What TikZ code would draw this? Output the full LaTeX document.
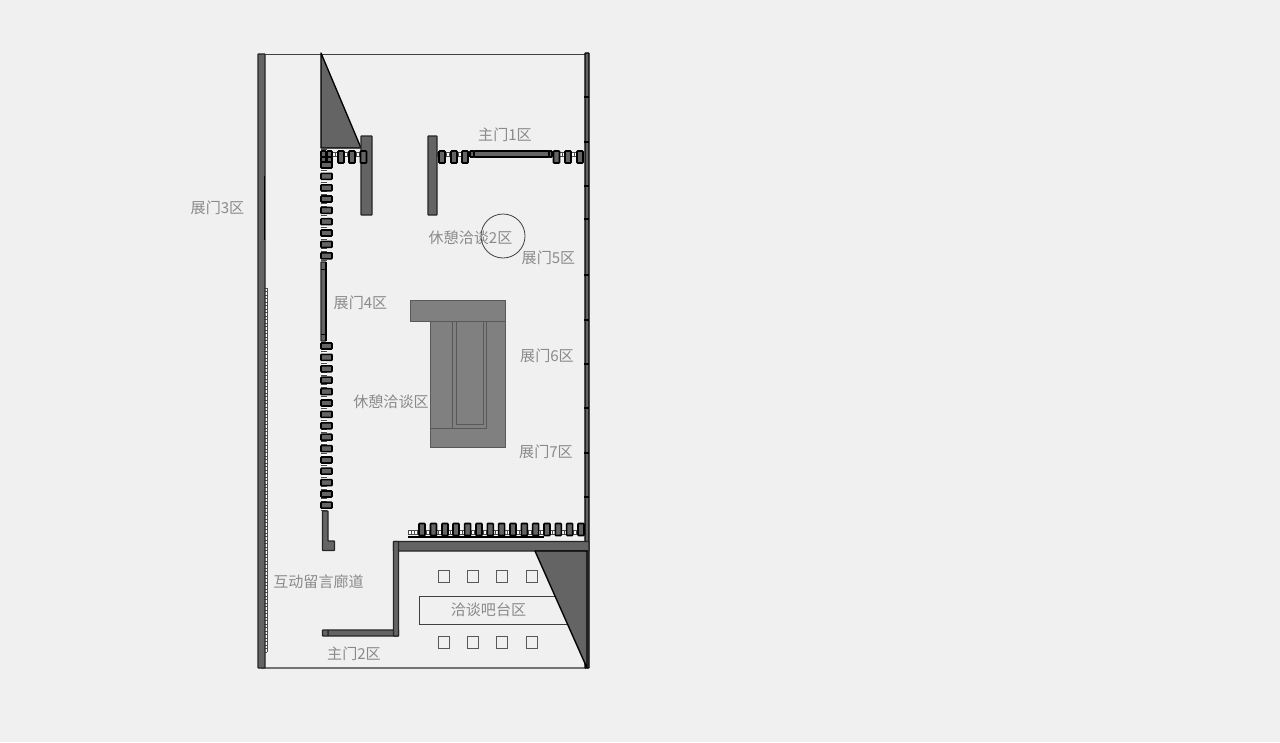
\documentclass[tikz,border=0pt]{standalone}
\usepackage{fontspec}
\newfontfamily\cjk{Noto Sans CJK SC}
\definecolor{bgc}{HTML}{F0F0F0}
\definecolor{wallc}{HTML}{646464}
\definecolor{sofac}{HTML}{808080}
\definecolor{labelc}{HTML}{8A8A8A}
\tikzset{
  wall/.style={fill=wallc,draw=black!85,line width=0.85pt,rounded corners=0.4pt},
  door/.style={fill=wallc,draw=black,line width=1.15pt,rounded corners=0.5pt},
  wedge/.style={fill=wallc,draw=black,line width=1pt,line join=round},
  sofa/.style={fill=sofac,draw=black!65,line width=0.5pt},
  sofaline/.style={draw=black!65,line width=0.5pt},
  seat/.style={draw=black!65,line width=0.75pt},
  thin/.style={draw=black!75,line width=0.6pt},
  zone/.style={text=labelc,font=\cjk\fontsize{11.3pt}{13pt}\selectfont,inner sep=0pt},
  track/.style={fill=white,draw=none},
  tick/.style={draw=black!70,line width=0.35pt}
}
\begin{document}
\begin{tikzpicture}[x=0.75pt,y=-0.75pt]
\useasboundingbox (0,0) rectangle (1280,742);
\fill[bgc] (0,0) rectangle (1280,742);
% outer thin lines
\draw[thin,line width=0.7pt] (261,54) -- (586,54);
\draw[thin,draw=black!55,line width=0.9pt] (261,668) -- (586,668);
% hatch on left wall
\fill[track] (265,288) rectangle (267,652);
\foreach \y in {288,291.5,...,652} \draw[tick] (265,\y) -- (267,\y);
\draw[tick] (267,288) -- (267,652);
% left wall
\draw[wall] (258,54) rectangle (265,668);
\draw[black,line width=0.9pt] (264.6,176) -- (264.6,240);
% right wall
\draw[wall,draw=black,line width=1pt] (585,53) rectangle (589,668);
\foreach \y in {97,142,186,219,275,320,364,408,453,497} \draw[black,line width=0.8pt] (584,\y) -- (589,\y);
% door tracks: vertical
\fill[track] (322,149) rectangle (326.5,262);
\fill[track] (322,341) rectangle (326.5,511);
\foreach \y in {149,152,...,261} \draw[tick] (321,\y) -- (326.5,\y);
\foreach \y in {342,345,...,510} \draw[tick] (321,\y) -- (326.5,\y);
% door tracks: upper horizontal
\fill[track] (332,152) rectangle (366,156);
\fill[track] (437,152) rectangle (584,156);
\foreach \x in {332,335,...,366} \draw[tick] (\x,152) -- (\x,156);
\foreach \x in {437,440,...,472} \draw[tick] (\x,152) -- (\x,156);
\foreach \x in {550,553,...,584} \draw[tick] (\x,152) -- (\x,156);
\draw[tick] (332,152) -- (366,152) (332,156) -- (366,156);
\draw[tick] (437,152) -- (472,152) (437,156) -- (472,156) (550,152) -- (584,152) (550,156) -- (584,156);
% door tracks: lower horizontal
\fill[track] (408,530) rectangle (585,534);
\foreach \x in {408,411,...,584} \draw[tick] (\x,530) -- (\x,534);
\draw[tick] (408,530) -- (585,530) (408,534) -- (585,534);
% triangle and pillars
\draw[wedge] (321,53) -- (321,148) -- (361,148) -- cycle;
\draw[wall] (361,136) rectangle (372,215);
\draw[wall] (428,136) rectangle (437,215);
% upper horizontal leaves
\foreach \x in {338,349,360.5,439,451,462,553.5,565,577} \draw[door] (\x,151) rectangle ++(6,12);
\draw[door] (321,151) rectangle (326,157);
\draw[door] (327,151) rectangle (332,157);
\draw[door] (327,157) rectangle (332,163);
\draw[door] (321,157) rectangle (326,162);
\draw[door] (470,151) rectangle (474,157);
\draw[door] (474,151) rectangle (549,157);
\draw[door] (549,151) rectangle (552,157);
% vertical leaves
\foreach \y in {165,176.3,187.8,199,210.4,221.7,233,244.4,255.8,346,357.4,368.8,380.2,391.6,403,414.4,425.8,437.2,448.6,460,471.2,482.6,494,505.2}
  \draw[door] (321,\y-3) rectangle (332,\y+3);
% upper vertical wall
\draw[wall] (321,262) rectangle (326,341);
\draw[black,line width=1pt] (326,262) -- (326,341);
\draw[black,line width=0.5pt] (321,269) -- (326,269) (321,334) -- (326,334);
% lower-left L
\draw[wall,line width=1pt] (322.5,511) -- (328,511) -- (328,541) -- (334.5,541) -- (334.5,550.5) -- (322.5,550.5) -- cycle;
% lower horizontal leaves
\foreach \x in {422,433.5,445,456,467.6,479,490.3,501.6,513,524.4,535.7,547,558.3,569.7,581}
  \draw[door] (\x-3,523.5) rectangle (\x+3,535.5);
\draw[black,line width=1.6pt] (408,537) -- (544,537);
% corner walls
\draw[wall,line width=1pt] (393.5,541.5) rectangle (589,551);
\draw[wall,line width=1pt] (328,630) rectangle (398.5,636);
\draw[wall,line width=1pt] (322.5,630) rectangle (328,636);
\draw[wall,line width=1pt] (393.5,541.5) rectangle (398.5,636);
% bar
\draw[thin] (561,596) -- (419.5,596) -- (419.5,624.5) -- (569,624.5);
\draw[wedge] (535,551) -- (587,551) -- (587,668) -- cycle;
% seats
\foreach \x in {438.5,467.5,496.5,526} {
  \draw[seat] (\x,570) rectangle ++(11,12);
  \draw[seat] (\x,636) rectangle ++(11,12);
}
% sofa
\draw[sofa] (430,321) rectangle (505,447);
\draw[sofa] (410,300.5) rectangle (505,321);
\draw[sofaline] (452.5,321) -- (452.5,428) (486.5,321) -- (486.5,428);
\draw[sofaline] (456,321) -- (456,424) -- (483,424) -- (483,321);
\draw[sofaline] (430,428) -- (486.5,428);
% circle
\draw[thin] (503,236) circle [radius=22];
% labels
\node[zone] (z3) at (217.5,207.5) {展门3区};
\node[zone] (m1) at (505,134.5) {主门1区};
\node[zone] (r2) at (470.5,237.5) {休憩洽谈2区};
\node[zone] (z5) at (548.5,257.5) {展门5区};
\node[zone] (z4) at (360.5,302.5) {展门4区};
\node[zone] (z6) at (547,355.5) {展门6区};
\node[zone] (r1) at (391,401.5) {休憩洽谈区};
\node[zone] (z7) at (546,451.5) {展门7区};
\node[zone] (cor) at (318.5,581.5) {互动留言廊道};
\node[zone] (m2) at (354,653.5) {主门2区};
\node[zone] (bar) at (488.5,609.5) {洽谈吧台区};
\end{tikzpicture}
\end{document}
